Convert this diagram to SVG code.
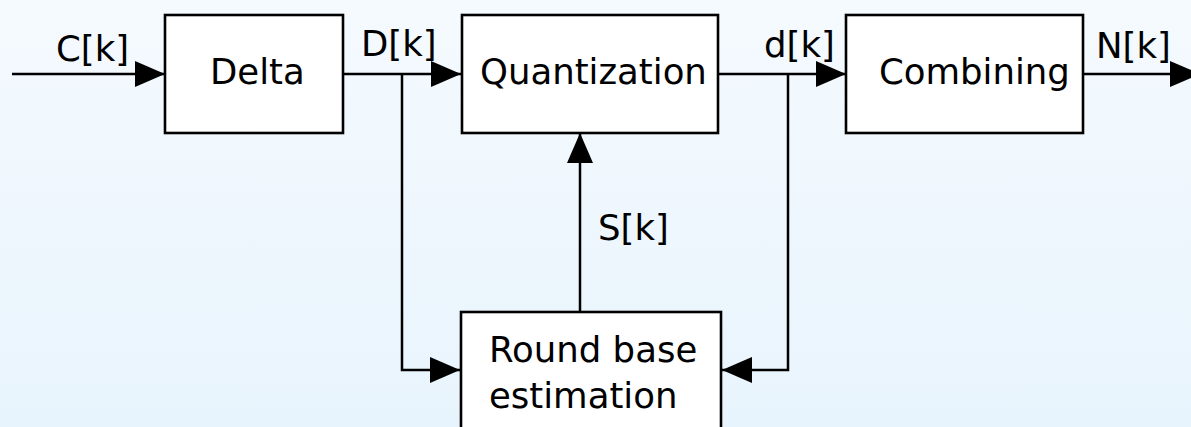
<svg xmlns="http://www.w3.org/2000/svg" width="1191" height="427" viewBox="0 0 1191 427">
  <defs>
    <linearGradient id="bg" x1="0" y1="0" x2="0" y2="1">
      <stop offset="0" stop-color="#f5fafe"/>
      <stop offset="1" stop-color="#e8f4fd"/>
    </linearGradient>
    <marker id="arrow" viewBox="0 0 30 26" refX="30" refY="13" markerWidth="30" markerHeight="26" markerUnits="userSpaceOnUse" orient="auto">
      <path d="M0,0 L30,13 L0,26 Z" fill="#000"/>
    </marker>
    <style>
      .box { fill: #fff; stroke: #000; stroke-width: 2.6; }
      .wire { fill: none; stroke: #000; stroke-width: 2.5; }
      .arr { marker-end: url(#arrow); }
      text { font-family: "DejaVu Sans", "Liberation Sans", sans-serif; font-size: 35.5px; fill: #000; }
    </style>
  </defs>

  <rect x="0" y="0" width="1191" height="427" fill="url(#bg)"/>

  <!-- connectors -->
  <g id="connectors">
    <path class="wire arr" d="M12,74 H165"/>
    <path class="wire arr" d="M343,74 H461"/>
    <path class="wire arr" d="M402,74 V370 H460"/>
    <path class="wire arr" d="M718,74 H846"/>
    <path class="wire arr" d="M788,74 V370 H722"/>
    <path class="wire arr" d="M1083,74 H1200"/>
    <path class="wire arr" d="M580,312 V133"/>
    <text x="56" y="61">C[k]</text>
    <text x="361" y="56">D[k]</text>
    <text x="764" y="57">d[k]</text>
    <text x="1096" y="58">N[k]</text>
    <text x="598" y="240">S[k]</text>
  </g>

  <g id="delta">
    <rect class="box" x="165" y="15" width="178" height="118"/>
    <text x="210" y="84">Delta</text>
  </g>

  <g id="quantization">
    <rect class="box" x="462" y="15" width="256" height="118"/>
    <text x="480" y="84">Quantization</text>
  </g>

  <g id="combining">
    <rect class="box" x="846" y="15" width="237" height="118"/>
    <text x="879" y="84">Combining</text>
  </g>

  <g id="round-base-estimation">
    <rect class="box" x="461" y="312" width="260" height="130"/>
    <text x="489" y="362">Round base</text>
    <text x="489" y="408">estimation</text>
  </g>
</svg>
